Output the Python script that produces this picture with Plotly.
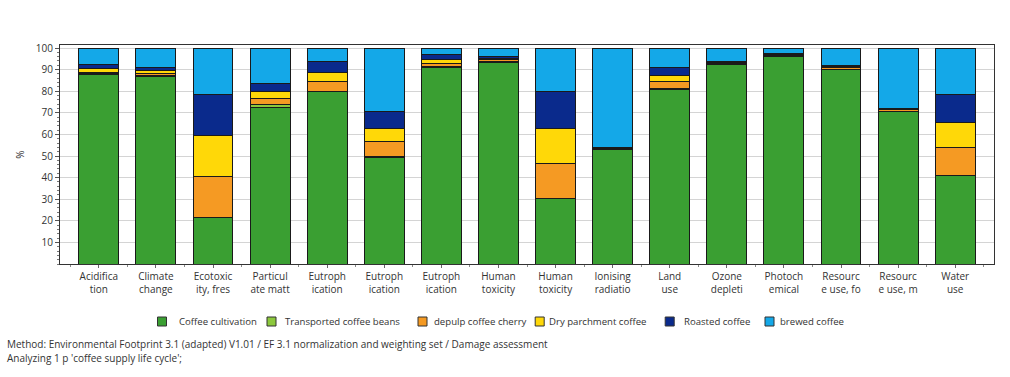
import plotly.graph_objects as go

# Impact categories (labels wrapped the way the software truncates them)
categories = [
    "Acidifica<br>tion", "Climate<br>change", "Ecotoxic<br>ity, fres",
    "Particul<br>ate matt", "Eutroph<br>ication", "Eutroph<br>ication",
    "Eutroph<br>ication", "Human<br>toxicity", "Human<br>toxicity",
    "Ionising<br>radiatio", "Land<br>use", "Ozone<br>depleti",
    "Photoch<br>emical", "Resourc<br>e use, fo", "Resourc<br>e use, m",
    "Water<br>use",
]

# Contribution (%) of each life-cycle stage per impact category
coffee_cultivation = [87.6, 87.0, 21.4, 72.6, 79.9, 49.4, 91.2, 93.5, 30.1, 52.8, 80.6, 92.2, 96.3, 89.9, 70.7, 40.9]
transported_beans  = [0.4, 0.4, 0.2, 1.2, 0.2, 0.2, 0.3, 0.2, 0.2, 0.1, 0.6, 0.1, 0.1, 0.2, 0.1, 0.2]
depulp_cherry      = [0.8, 1.0, 18.8, 3.0, 4.3, 6.9, 1.3, 0.9, 16.2, 0.5, 3.1, 0.6, 0.6, 0.8, 0.6, 12.7]
dry_parchment      = [1.6, 1.2, 18.9, 3.2, 4.3, 6.2, 2.0, 0.7, 16.2, 0.4, 3.2, 0.5, 0.4, 0.6, 0.4, 11.7]
roasted_coffee     = [1.9, 1.5, 19.4, 3.6, 4.9, 7.8, 2.0, 0.6, 17.0, 0.1, 3.4, 0.2, 0.1, 0.3, 0.3, 13.2]
brewed_coffee      = [7.7, 8.9, 21.3, 16.4, 6.4, 29.5, 3.2, 4.1, 20.3, 46.1, 9.1, 6.4, 2.5, 8.2, 27.9, 21.3]

stage_names = ["Coffee cultivation", "Transported coffee beans", "depulp coffee cherry",
               "Dry parchment coffee", "Roasted coffee", "brewed coffee"]
stage_values = [coffee_cultivation, transported_beans, depulp_cherry,
                dry_parchment, roasted_coffee, brewed_coffee]
stage_colors = ["#3A9F32", "#8CC83C", "#F59A23", "#FFD808", "#0A2A8C", "#14A8E8"]

y_ticks = [10, 20, 30, 40, 50, 60, 70, 80, 90, 100]

positions = list(range(len(categories)))

# Plot-area geometry in pixels, used to place the key and footer
W, H = 1010, 377
PL, PR, PT, PB = 60, 16, 45, 113
PW, PH = W - PL - PR, H - PT - PB


def px_x(px):
    return (px - PL) / PW


def px_y(py):
    return (H - PB - py) / PH


fig = go.Figure()
for name, vals, col in zip(stage_names, stage_values, stage_colors):
    fig.add_trace(go.Bar(
        x=positions, y=vals, name=name, width=0.7, showlegend=False,
        marker=dict(color=col, line=dict(color="#1a1a1a", width=1)),
    ))

font_family = "Open Sans, Noto Sans, sans-serif"
text_color = "#333333"

fig.update_layout(
    width=W, height=H,
    barmode="stack",
    plot_bgcolor="white", paper_bgcolor="white",
    margin=dict(l=PL, r=PR, t=PT, b=PB),
    font=dict(family=font_family, size=10, color=text_color),
    xaxis=dict(
        range=[-0.68, 15.68],
        tickmode="array", tickvals=positions, ticktext=categories,
        ticks="outside", ticklen=3, tickcolor="#666666",
        minor=dict(ticks="outside", ticklen=2, dtick=0.5, tick0=-0.5, tickcolor="#888888"),
        showgrid=False, zeroline=False,
        showline=True, linecolor="#333333", linewidth=1, mirror=True,
        tickfont=dict(size=10, color=text_color),
    ),
    yaxis=dict(
        range=[0, 101.4],
        tickmode="array", tickvals=y_ticks,
        ticks="outside", ticklen=4, tickcolor="#555555",
        minor=dict(ticks="outside", ticklen=2, dtick=2, tickcolor="#777777", showgrid=False),
        showgrid=True, gridcolor="#d4d4d4", gridwidth=1,
        zeroline=False,
        showline=True, linecolor="#333333", linewidth=1, mirror=True,
        tickfont=dict(size=10, color=text_color),
        title=dict(text="%", font=dict(size=10, color=text_color), standoff=9),
    ),
)

# Key row under the chart: swatch centres and label starts (pixels)
key_swatch_x = [162, 271.5, 422.5, 539.7, 669.7, 769.5]
key_text_x = [176.5, 283.3, 431.5, 547.0, 681.7, 778.3]
key_y = 321.5
half = 4.5
for name, col, sx, tx in zip(stage_names, stage_colors, key_swatch_x, key_text_x):
    fig.add_shape(
        type="rect", xref="paper", yref="paper",
        x0=px_x(sx - half), x1=px_x(sx + half),
        y0=px_y(key_y + half), y1=px_y(key_y - half),
        fillcolor=col, line=dict(color="#333333", width=1),
    )
    fig.add_annotation(
        text=name, xref="paper", yref="paper",
        x=px_x(tx), y=px_y(key_y), xanchor="left", yanchor="middle",
        showarrow=False, font=dict(size=9.6, color=text_color),
    )

fig.add_annotation(
    text="Method: Environmental Footprint 3.1 (adapted) V1.01 / EF 3.1 normalization and weighting set / Damage assessment",
    xref="paper", yref="paper", x=px_x(5), y=px_y(343.5),
    xanchor="left", yanchor="middle", showarrow=False,
    font=dict(size=10, color=text_color),
)
fig.add_annotation(
    text="Analyzing 1 p 'coffee supply life cycle';",
    xref="paper", yref="paper", x=px_x(5), y=px_y(357.5),
    xanchor="left", yanchor="middle", showarrow=False,
    font=dict(size=10, color=text_color),
)

fig.write_html("out.html")
